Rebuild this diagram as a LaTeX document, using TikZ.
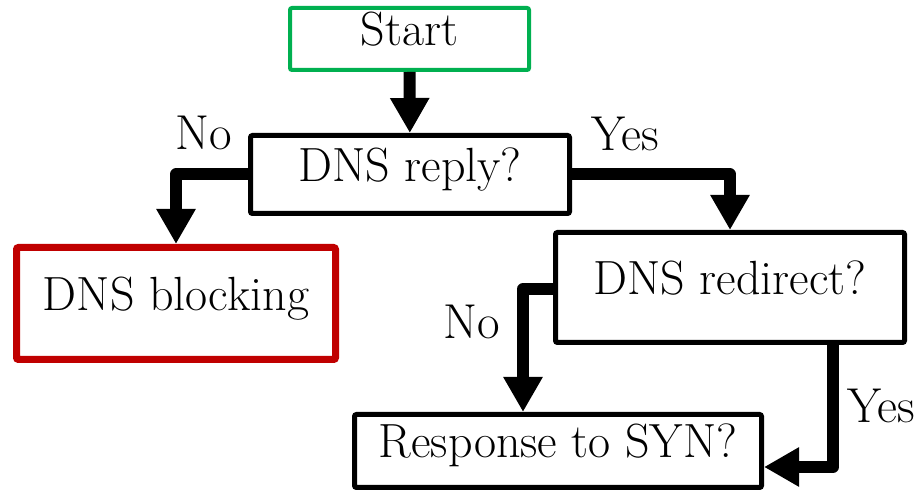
\documentclass[tikz,border=0pt]{standalone}
\usetikzlibrary{arrows.meta}
\definecolor{startgreen}{HTML}{00B050}
\definecolor{stopred}{HTML}{C00000}
\tikzset{
  box/.style={draw=black, line width=2.5pt, fill=white, inner sep=0pt, rounded corners=1pt,
    text height=0.66em, text depth=0pt, font=\fontsize{24}{28}\selectfont},
  lbl/.style={inner sep=0pt, font=\fontsize{24.5}{28}\selectfont},
  flow/.style={line width=6pt, line join=round, -{Triangle[length=17.5pt,width=18.5pt]}}
}
\begin{document}
\begin{tikzpicture}[x=0.5pt,y=-0.5pt]
\useasboundingbox (0,0) rectangle (920,490);
\node[box, draw=startgreen, line width=2pt, minimum width=119.5pt, minimum height=31pt] (start) at (409.5,39) {Start};
\node[box, minimum width=159.5pt, minimum height=39pt] (reply) at (410,174.5) {DNS reply?};
\node[box, draw=stopred, line width=3.5pt, minimum width=159.5pt, minimum height=56pt] (block) at (176,303.5) {DNS blocking};
\node[box, minimum width=174.5pt, minimum height=55pt] (redir) at (730,287.5) {DNS redirect?};
\node[box, minimum width=203.5pt, minimum height=36.5pt] (syn) at (558,451) {Response to SYN?};

\draw[flow] (start) -- (reply);
\draw[flow] (reply.west) -| (block.north);
\draw[flow] (reply.east) -| (redir.north);
\draw[flow] ([yshift=-0.75pt]redir.west) -| ([xshift=-17.5pt]syn.north);
\draw[flow] ([xshift=51.5pt]redir.south) |- ([yshift=-8pt]syn.east);

\node[lbl] (no1) at (204,132.5) {No};
\node[lbl] (yes1) at (625.5,134) {Yes};
\node[lbl] (no2) at (471.5,322) {No};
\node[lbl] (yes2) at (881.5,406) {Yes};
\end{tikzpicture}
\end{document}
